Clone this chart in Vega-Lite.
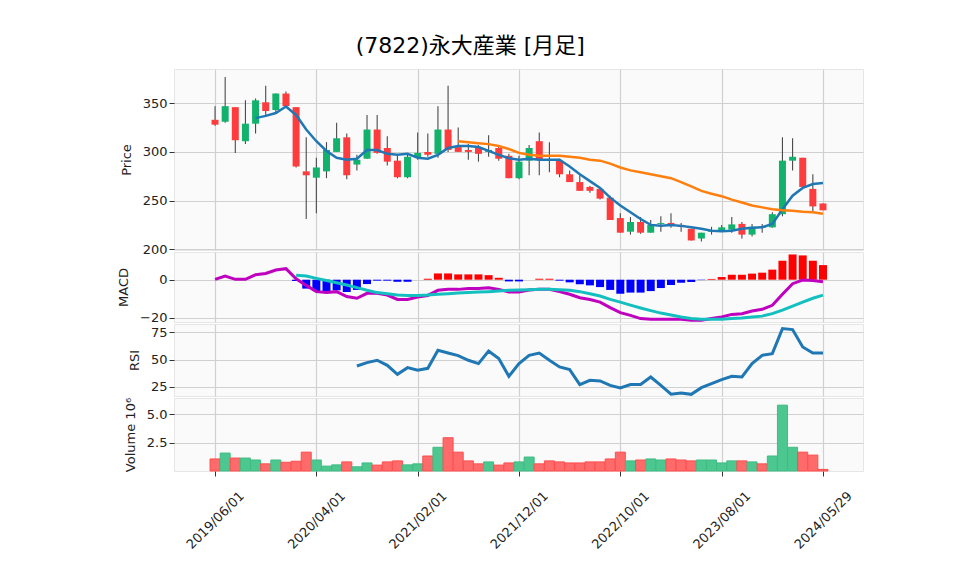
{
"$schema": "https://vega.github.io/schema/vega-lite/v6.json",
"padding": {"left": 117, "top": 34, "right": 5, "bottom": 5},
"background": "white",
"bounds": "flush",
"title": {"text": "(7822)永大産業 [月足]", "fontSize": 22, "font": "DejaVu Sans, Noto Sans CJK JP", "fontWeight": "normal", "color": "#000", "anchor": "middle", "dx": -20, "offset": 11},
"spacing": 2,
"config": {
"view": {"fill": "#fafafa", "stroke": "#e6e6e6"},
"scale": {"continuousPadding": 0},
"axis": {"gridColor": "#d0d0d0", "gridWidth": 1.2, "labelFont": "DejaVu Sans", "titleFont": "DejaVu Sans", "labelColor": "#222", "titleColor": "#222", "titleFontWeight": "normal", "titleFontSize": 13, "labelFontSize": 13, "domain": false, "tickColor": "#333", "tickSize": 5, "titlePadding": 9}
},
"datasets": {"d": [
{"i":0,"o":333,"h":347,"l":327,"c":328,"v":1.06,"vd":"d","ma5":null,"ma25":null,"macd":0.2,"sig":null,"hist":null,"rsi":null},
{"i":1,"o":331,"h":377,"l":330,"c":347,"v":1.58,"vd":"u","ma5":null,"ma25":null,"macd":1.9,"sig":null,"hist":null,"rsi":null},
{"i":2,"o":346,"h":346,"l":299,"c":312,"v":1.14,"vd":"d","ma5":null,"ma25":null,"macd":0.2,"sig":null,"hist":null,"rsi":null},
{"i":3,"o":311,"h":353,"l":308,"c":329,"v":1.14,"vd":"u","ma5":null,"ma25":null,"macd":0.2,"sig":null,"hist":null,"rsi":null},
{"i":4,"o":329,"h":355,"l":319,"c":353,"v":0.97,"vd":"u","ma5":334.7,"ma25":null,"macd":2.6,"sig":null,"hist":null,"rsi":null},
{"i":5,"o":351,"h":368,"l":338,"c":342,"v":0.63,"vd":"d","ma5":337,"ma25":null,"macd":3.3,"sig":null,"hist":null,"rsi":null},
{"i":6,"o":343,"h":360,"l":340,"c":360,"v":0.97,"vd":"u","ma5":340,"ma25":null,"macd":5.1,"sig":null,"hist":null,"rsi":null},
{"i":7,"o":360,"h":362,"l":346,"c":347,"v":0.77,"vd":"d","ma5":346.6,"ma25":null,"macd":5.8,"sig":null,"hist":null,"rsi":null},
{"i":8,"o":346,"h":346,"l":284,"c":285,"v":0.86,"vd":"d","ma5":338,"ma25":null,"macd":0.5,"sig":2.4,"hist":-0.7,"rsi":null},
{"i":9,"o":280,"h":315,"l":231,"c":276,"v":1.66,"vd":"d","ma5":323,"ma25":null,"macd":-3.0,"sig":1.9,"hist":-4.7,"rsi":null},
{"i":10,"o":273.5,"h":294,"l":237,"c":284,"v":0.97,"vd":"u","ma5":311,"ma25":null,"macd":-6.3,"sig":0.7,"hist":-6.0,"rsi":null},
{"i":11,"o":280,"h":310,"l":273,"c":302,"v":0.43,"vd":"u","ma5":301,"ma25":null,"macd":-6.8,"sig":-0.4,"hist":-6.0,"rsi":null},
{"i":12,"o":300,"h":330,"l":300,"c":314,"v":0.54,"vd":"u","ma5":294,"ma25":null,"macd":-6.3,"sig":-1.6,"hist":-5.6,"rsi":null},
{"i":13,"o":315,"h":319,"l":272,"c":276,"v":0.80,"vd":"d","ma5":292,"ma25":null,"macd":-8.9,"sig":-2.8,"hist":-6.5,"rsi":null},
{"i":14,"o":287,"h":297,"l":281,"c":292,"v":0.37,"vd":"u","ma5":293,"ma25":null,"macd":-9.8,"sig":-4.2,"hist":-5.4,"rsi":44.1},
{"i":15,"o":293,"h":338,"l":293,"c":323,"v":0.71,"vd":"u","ma5":302,"ma25":null,"macd":-7.2,"sig":-5.6,"hist":-2.3,"rsi":47.2},
{"i":16,"o":323,"h":338,"l":298,"c":299,"v":0.52,"vd":"d","ma5":302,"ma25":null,"macd":-7.2,"sig":-6.8,"hist":-0.5,"rsi":49.3},
{"i":17,"o":304,"h":316,"l":286,"c":290,"v":0.80,"vd":"d","ma5":298,"ma25":null,"macd":-8.1,"sig":-7.4,"hist":-0.5,"rsi":44.7},
{"i":18,"o":291,"h":296,"l":273,"c":274,"v":0.89,"vd":"d","ma5":297,"ma25":null,"macd":-10.4,"sig":-8.1,"hist":-1.1,"rsi":36.5},
{"i":19,"o":274,"h":297,"l":273,"c":295,"v":0.54,"vd":"u","ma5":298,"ma25":null,"macd":-10.4,"sig":-8.3,"hist":-1.1,"rsi":42.6},
{"i":20,"o":294.5,"h":320,"l":292,"c":299,"v":0.63,"vd":"u","ma5":294,"ma25":null,"macd":-9.1,"sig":-8.3,"hist":null,"rsi":40.2},
{"i":21,"o":300,"h":319,"l":295,"c":297,"v":1.32,"vd":"d","ma5":293,"ma25":null,"macd":-8.3,"sig":-8.1,"hist":0.5,"rsi":42.0},
{"i":22,"o":298,"h":347,"l":294,"c":323,"v":2.09,"vd":"u","ma5":297,"ma25":null,"macd":-5.6,"sig":-7.7,"hist":3.3,"rsi":58.4},
{"i":23,"o":323,"h":368,"l":300,"c":302,"v":2.93,"vd":"d","ma5":304,"ma25":null,"macd":-5.1,"sig":-7.4,"hist":3.3,"rsi":55.9},
{"i":24,"o":305,"h":325,"l":300,"c":300,"v":1.66,"vd":"d","ma5":306,"ma25":311,"macd":-5.1,"sig":-7.0,"hist":2.8,"rsi":53.5},
{"i":25,"o":302,"h":308,"l":292,"c":300,"v":0.89,"vd":"d","ma5":306,"ma25":310,"macd":-4.7,"sig":-6.8,"hist":2.8,"rsi":49.3},
{"i":26,"o":304,"h":307,"l":290,"c":298,"v":0.63,"vd":"d","ma5":305,"ma25":309,"macd":-4.6,"sig":-6.5,"hist":2.8,"rsi":46.3},
{"i":27,"o":300,"h":317,"l":295,"c":302,"v":0.80,"vd":"u","ma5":301,"ma25":308,"macd":-4.2,"sig":-6.3,"hist":2.4,"rsi":57.7},
{"i":28,"o":304,"h":307,"l":291,"c":293,"v":0.52,"vd":"d","ma5":297,"ma25":306,"macd":-5.1,"sig":-6.0,"hist":1.0,"rsi":50.8},
{"i":29,"o":296,"h":298,"l":273,"c":273,"v":0.71,"vd":"d","ma5":293.5,"ma25":303,"macd":-6.5,"sig":-5.6,"hist":-0.9,"rsi":34.7},
{"i":30,"o":273,"h":296,"l":272,"c":290,"v":0.80,"vd":"u","ma5":292,"ma25":299,"macd":-6.5,"sig":-5.4,"hist":-0.9,"rsi":46.3},
{"i":31,"o":291,"h":307,"l":276,"c":304,"v":1.23,"vd":"u","ma5":293,"ma25":297,"macd":-5.4,"sig":-5.3,"hist":null,"rsi":53.8},
{"i":32,"o":311,"h":320,"l":276,"c":292,"v":0.63,"vd":"d","ma5":292,"ma25":296,"macd":-5.1,"sig":-5.1,"hist":0.5,"rsi":55.9},
{"i":33,"o":296,"h":310,"l":279,"c":295.5,"v":0.89,"vd":"d","ma5":292,"ma25":296,"macd":-5.1,"sig":-5.1,"hist":0.5,"rsi":49.3},
{"i":34,"o":291,"h":293,"l":274,"c":277,"v":0.80,"vd":"d","ma5":292,"ma25":296,"macd":-6.3,"sig":-5.3,"hist":-0.5,"rsi":43.2},
{"i":35,"o":277,"h":281,"l":269,"c":269,"v":0.71,"vd":"d","ma5":285,"ma25":295,"macd":-7.7,"sig":-5.6,"hist":-1.4,"rsi":40.8},
{"i":36,"o":269,"h":276,"l":260,"c":260,"v":0.71,"vd":"d","ma5":277,"ma25":294,"macd":-9.5,"sig":-6.3,"hist":-2.4,"rsi":27.2},
{"i":37,"o":264,"h":265,"l":258,"c":260,"v":0.80,"vd":"d","ma5":270,"ma25":292,"macd":-10.4,"sig":-7.4,"hist":-3.0,"rsi":31.1},
{"i":38,"o":262,"h":264,"l":251,"c":252,"v":0.80,"vd":"d","ma5":263,"ma25":291,"macd":-11.8,"sig":-8.6,"hist":-3.9,"rsi":30.5},
{"i":39,"o":253,"h":255,"l":230,"c":230,"v":1.06,"vd":"d","ma5":253,"ma25":288,"macd":-14.7,"sig":-10.4,"hist":-5.4,"rsi":26.5},
{"i":40,"o":232,"h":237,"l":217,"c":217,"v":1.66,"vd":"d","ma5":245,"ma25":284,"macd":-17.4,"sig":-11.8,"hist":-7.4,"rsi":24.1},
{"i":41,"o":218,"h":233,"l":215,"c":228,"v":0.89,"vd":"u","ma5":238,"ma25":281,"macd":-18.8,"sig":-13.4,"hist":-6.8,"rsi":27.2},
{"i":42,"o":228,"h":233,"l":216,"c":217,"v":0.97,"vd":"d","ma5":231,"ma25":279,"macd":-20.5,"sig":-14.9,"hist":-6.8,"rsi":27.2},
{"i":43,"o":217,"h":230,"l":217,"c":225,"v":1.06,"vd":"u","ma5":225,"ma25":277,"macd":-20.9,"sig":-16.3,"hist":-6.0,"rsi":34.1},
{"i":44,"o":226,"h":234,"l":218,"c":227,"v":0.97,"vd":"u","ma5":224,"ma25":275,"macd":-20.9,"sig":-17.6,"hist":-4.4,"rsi":26.5},
{"i":45,"o":227,"h":237,"l":222,"c":225,"v":1.06,"vd":"d","ma5":225,"ma25":273,"macd":-20.9,"sig":-18.6,"hist":-2.8,"rsi":18.4},
{"i":46,"o":225,"h":227,"l":218,"c":223,"v":0.97,"vd":"d","ma5":224,"ma25":269,"macd":-20.9,"sig":-19.7,"hist":-1.6,"rsi":19.6},
{"i":47,"o":221,"h":221,"l":209,"c":209,"v":0.89,"vd":"d","ma5":222.5,"ma25":264.5,"macd":-21.4,"sig":-20.4,"hist":-1.2,"rsi":18.3},
{"i":48,"o":211,"h":217,"l":208,"c":217,"v":0.97,"vd":"u","ma5":221,"ma25":260,"macd":-21.4,"sig":-20.9,"hist":-0.2,"rsi":24.4},
{"i":49,"o":218,"h":223,"l":215,"c":219,"v":0.97,"vd":"u","ma5":219,"ma25":257,"macd":-20.5,"sig":-20.9,"hist":0.4,"rsi":28.1},
{"i":50,"o":219,"h":225,"l":218,"c":222.5,"v":0.71,"vd":"u","ma5":218.5,"ma25":254.5,"macd":-19.7,"sig":-20.9,"hist":1.4,"rsi":31.7},
{"i":51,"o":220,"h":233,"l":217,"c":225.5,"v":0.89,"vd":"u","ma5":219,"ma25":251,"macd":-18.3,"sig":-20.5,"hist":2.6,"rsi":34.7},
{"i":52,"o":226,"h":228,"l":211,"c":215,"v":0.89,"vd":"d","ma5":221,"ma25":248,"macd":-17.9,"sig":-20.2,"hist":2.6,"rsi":34.1},
{"i":53,"o":215,"h":226,"l":213,"c":223,"v":0.80,"vd":"u","ma5":222,"ma25":245,"macd":-16.5,"sig":-19.7,"hist":3.2,"rsi":46.3},
{"i":54,"o":222,"h":226,"l":217,"c":223,"v":0.63,"vd":"d","ma5":222.5,"ma25":243,"macd":-15.6,"sig":-19.2,"hist":3.7,"rsi":53.8},
{"i":55,"o":222.5,"h":238,"l":222,"c":236,"v":1.32,"vd":"u","ma5":226,"ma25":241,"macd":-13.5,"sig":-17.9,"hist":5.3,"rsi":55.3},
{"i":56,"o":236,"h":315,"l":234,"c":291,"v":5.80,"vd":"u","ma5":241,"ma25":240,"macd":-7.7,"sig":-16.0,"hist":10.0,"rsi":78.1},
{"i":57,"o":291,"h":314,"l":281,"c":295,"v":2.09,"vd":"u","ma5":255,"ma25":239.5,"macd":-2.1,"sig":-13.9,"hist":13.3,"rsi":77.2},
{"i":58,"o":294,"h":294,"l":264,"c":264,"v":1.66,"vd":"d","ma5":263,"ma25":238.5,"macd":-0.2,"sig":-11.8,"hist":12.8,"rsi":61.4},
{"i":59,"o":262,"h":277,"l":239,"c":244,"v":1.40,"vd":"d","ma5":267,"ma25":238,"macd":-0.4,"sig":-9.8,"hist":10.0,"rsi":55.9},
{"i":60,"o":247,"h":247,"l":240,"c":240,"v":0.14,"vd":"d","ma5":268,"ma25":236.5,"macd":-1.1,"sig":-8.1,"hist":7.7,"rsi":55.9}
]},
"vconcat": [
{
"width": 689, "height": 181,
"data": {"name": "d"},
"encoding": {"x": {"field": "i", "type": "quantitative", "scale": {"domain": [-4.05, 63.95], "nice": false, "zero": false, "padding": 0}, "axis": {"values": [0,10,20,30,40,50,60], "labels": false, "ticks": false, "domain": false, "title": null, "grid": true}}},
"layer": [
{"mark": {"type": "rule", "color": "#4a4a4a", "strokeWidth": 1.1},
 "encoding": {"y": {"field": "l", "type": "quantitative", "scale": {"domain": [199.2, 385.2], "nice": false, "zero": false, "padding": 0}, "axis": {"values": [200,250,300,350], "title": "Price", "grid": true}}, "y2": {"field": "h"}}},
{"mark": {"type": "bar", "size": 7},
 "encoding": {"y": {"field": "o", "type": "quantitative"}, "y2": {"field": "c"},
  "color": {"condition": {"test": "datum.c >= datum.o", "value": "#12b26c"}, "value": "#fe3c3e"}}},
{"mark": {"type": "line", "color": "#1f77b4", "strokeWidth": 2.5},
 "encoding": {"y": {"field": "ma5", "type": "quantitative"}}},
{"mark": {"type": "line", "color": "#ff7f0e", "strokeWidth": 2.5},
 "encoding": {"y": {"field": "ma25", "type": "quantitative"}}}
]
},
{
"width": 689, "height": 70,
"data": {"name": "d"},
"encoding": {"x": {"field": "i", "type": "quantitative", "scale": {"domain": [-4.05, 63.95], "nice": false, "zero": false, "padding": 0}, "axis": {"values": [0,10,20,30,40,50,60], "labels": false, "ticks": false, "domain": false, "title": null, "grid": true}}},
"layer": [
{"mark": {"type": "bar", "size": 8},
 "encoding": {"y": {"field": "hist", "type": "quantitative", "scale": {"domain": [-22.3, 14.6], "nice": false, "zero": false, "padding": 0}, "axis": {"values": [-20, 0], "title": "MACD", "grid": true}}, "y2": {"datum": 0},
  "color": {"condition": {"test": "datum.hist >= 0", "value": "#ff0000"}, "value": "#0000ff"}}},
{"mark": {"type": "line", "color": "#bf00bf", "strokeWidth": 3},
 "encoding": {"y": {"field": "macd", "type": "quantitative"}}},
{"mark": {"type": "line", "color": "#14bfc0", "strokeWidth": 3},
 "encoding": {"y": {"field": "sig", "type": "quantitative"}}}
]
},
{
"width": 689, "height": 72,
"data": {"name": "d"},
"encoding": {"x": {"field": "i", "type": "quantitative", "scale": {"domain": [-4.05, 63.95], "nice": false, "zero": false, "padding": 0}, "axis": {"values": [0,10,20,30,40,50,60], "labels": false, "ticks": false, "domain": false, "title": null, "grid": true}}},
"layer": [
{"mark": {"type": "line", "color": "#1f77b4", "strokeWidth": 3},
 "encoding": {"y": {"field": "rsi", "type": "quantitative", "scale": {"domain": [16.8, 82.3], "nice": false, "zero": false, "padding": 0}, "axis": {"values": [25, 50, 75], "title": "RSI", "grid": true}}}}
]
},
{
"width": 689, "height": 73,
"data": {"name": "d"},
"encoding": {"x": {"field": "i", "type": "quantitative", "scale": {"domain": [-4.05, 63.95], "nice": false, "zero": false, "padding": 0}, "axis": {"values": [0,10,20,30,40,50,60], "labelExpr": "['2019/06/01','2020/04/01','2021/02/01','2021/12/01','2022/10/01','2023/08/01','2024/05/29'][round(datum.value/10)]", "labelAngle": -45, "labelAlign": "center", "labelBaseline": "middle", "labelPadding": 44, "labelOverlap": false, "labelBound": false, "labelFlush": false, "ticks": true, "tickSize": 5, "domain": false, "title": null, "grid": true}}},
"layer": [
{"mark": {"type": "bar", "size": 10, "strokeWidth": 1},
 "encoding": {"y": {"field": "v", "type": "quantitative", "scale": {"domain": [0, 6.43], "nice": false, "zero": false, "padding": 0}, "axis": {"values": [2.5, 5.0], "format": ".1f", "title": "Volume  10⁶", "grid": true}},
  "color": {"condition": {"test": "datum.vd == 'u'", "value": "#4cc790"}, "value": "#ff6b6b"},
  "stroke": {"condition": {"test": "datum.vd == 'u'", "value": "#3fbb83"}, "value": "#ff4d4d"}}}
]
}
]
}
